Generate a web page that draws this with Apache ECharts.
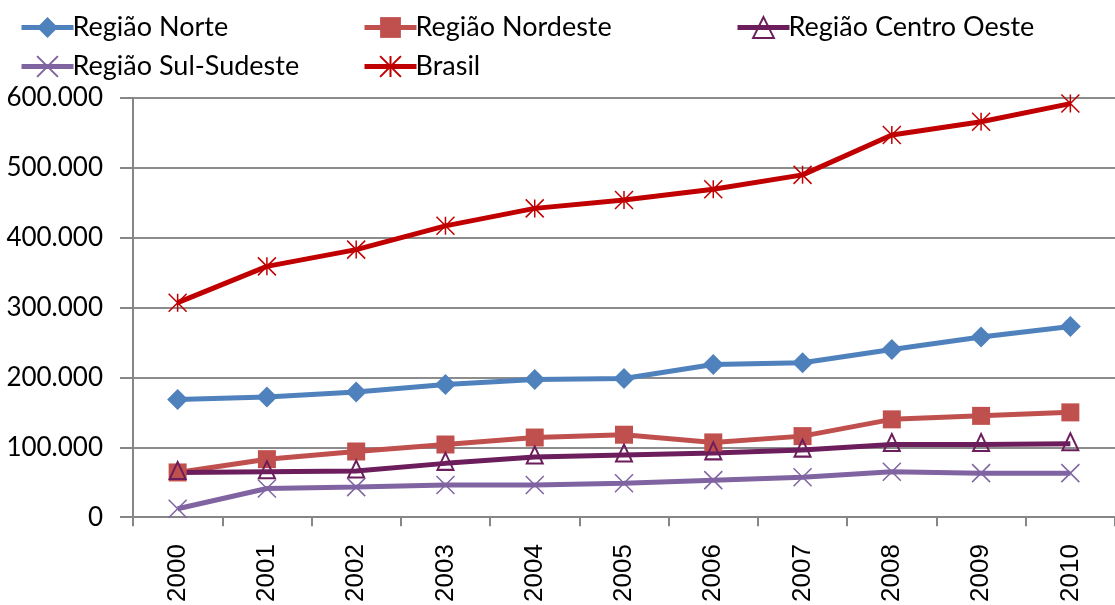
<!DOCTYPE html>
<html><head><meta charset="utf-8">
<script src="https://cdn.jsdelivr.net/npm/echarts@6/dist/echarts.min.js"></script>
<style>html,body{margin:0;padding:0;background:#fff}#c{width:1115px;height:605px}</style>
</head><body><div id="c"></div>
<script>
const years = ['2000','2001','2002','2003','2004','2005','2006','2007','2008','2009','2010'];
const norte = [168600,172000,179000,190000,197000,198600,218600,221000,240000,258000,273000];
const nordeste = [64000,83000,94000,104000,114000,118000,107000,116000,140000,145000,150000];
const centroOeste = [64000,65000,66000,77000,86000,89000,92000,96000,104000,104000,105000];
const sulSudeste = [12000,41000,43000,46000,46000,48600,53000,57000,65000,63000,63000];
const brasil = [307000,359000,383000,417000,442000,454000,469500,490000,547000,566000,592000];
const yTicks = [0,100000,200000,300000,400000,500000,600000];

const FONT = 'Lato';
function fmt(v){ return String(v).replace(/\B(?=(\d{3})+(?!\d))/g,'.'); }
const X_PATH = 'path://M0,0 L10,10 M10,0 L0,10';
const AST_PATH = 'path://M0,0 L10,10 M10,0 L0,10 M5,0 L5,10';

const chart = echarts.init(document.getElementById('c'));
function leg(name, left, top){
  return {data:[name], left:left, top:top, itemWidth:52, itemHeight:26, itemGap:0,
    lineStyle:{width:5},
    textStyle:{fontFamily:FONT, fontSize:27, color:'#000', padding:[0,0,0,-6]}, selectedMode:false};
}
chart.setOption({
  animation:false,
  legend:[leg('Região Norte',14,9), leg('Região Nordeste',357,9), leg('Região Centro Oeste',730,9),
          leg('Região Sul-Sudeste',14,48), leg('Brasil',357,48)],
  grid:{left:133, right:-6, top:98, bottom:87},
  xAxis:{type:'category', data:years, boundaryGap:true,
    axisLine:{lineStyle:{color:'#868686', width:2}},
    axisTick:{show:true, length:9, lineStyle:{color:'#868686', width:2}},
    axisLabel:{rotate:90, fontFamily:'Liberation Sans', fontSize:26, color:'#000', margin:27}},
  yAxis:{type:'value', min:0, max:600000, interval:100000,
    axisLine:{show:true, lineStyle:{color:'#868686', width:2}},
    axisTick:{show:true, length:13, lineStyle:{color:'#868686', width:2}},
    splitLine:{lineStyle:{color:'#8c8c8c', width:2}},
    axisLabel:{fontFamily:FONT, fontSize:26, color:'#000', margin:30, formatter:v=>fmt(v)}},
  series:[
    {name:'Região Norte', type:'line', data:norte, symbol:'diamond', symbolSize:21,
      lineStyle:{color:'#4F81BD', width:5}, itemStyle:{color:'#4F81BD'}},
    {name:'Região Nordeste', type:'line', data:nordeste, symbol:'rect', symbolSize:18,
      lineStyle:{color:'#C0504D', width:5}, itemStyle:{color:'#C0504D'}},
    {name:'Região Centro Oeste', type:'line', data:centroOeste, symbol:'triangle', symbolSize:[16,17],
      symbolOffset:[0,-2],
      lineStyle:{color:'#6B1D5C', width:5}, itemStyle:{color:'rgba(0,0,0,0)', borderColor:'#6B1D5C', borderWidth:2}},
    {name:'Região Sul-Sudeste', type:'line', data:sulSudeste, symbol:X_PATH, symbolSize:18,
      lineStyle:{color:'#8064A2', width:5}, itemStyle:{color:'rgba(0,0,0,0)', borderColor:'#8064A2', borderWidth:1.5}},
    {name:'Brasil', type:'line', data:brasil, symbol:AST_PATH, symbolSize:18,
      lineStyle:{color:'#C00000', width:5}, itemStyle:{color:'rgba(0,0,0,0)', borderColor:'#C00000', borderWidth:1.5}}
  ]
});
</script></body></html>
